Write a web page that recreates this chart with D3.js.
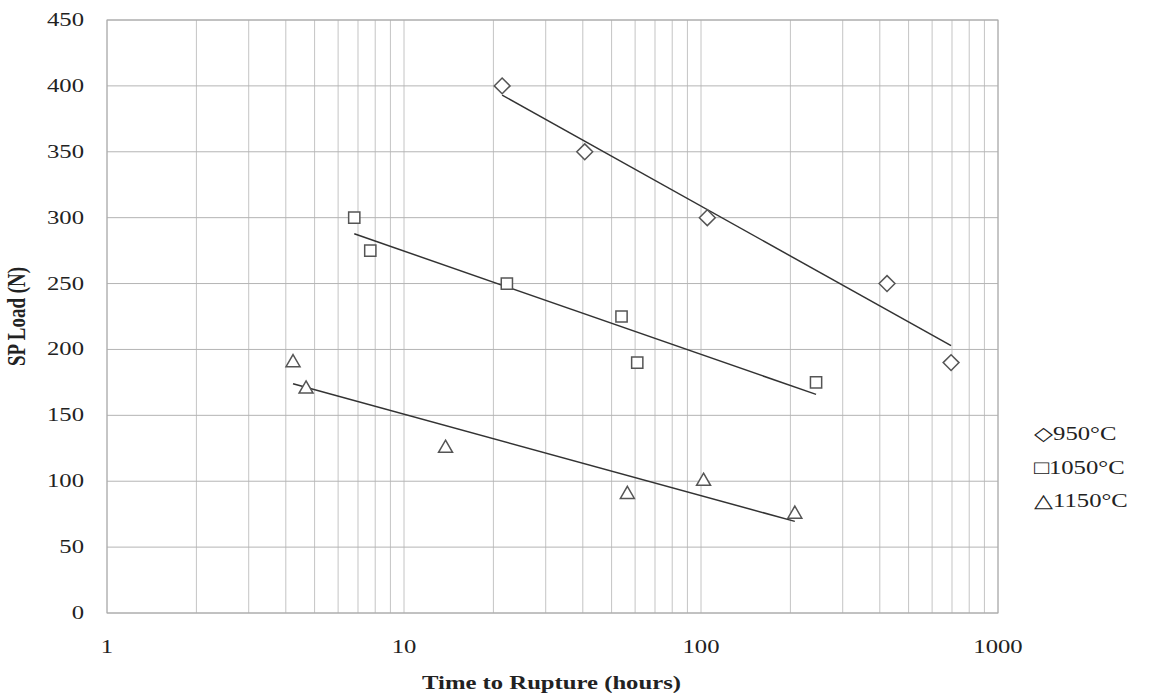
<!DOCTYPE html>
<html>
<head>
<meta charset="utf-8">
<script src="https://cdn.jsdelivr.net/npm/d3@7"></script>
<style>
  body { margin: 0; background: #fff; }
  text { font-family: "Liberation Serif", "Times New Roman", serif; fill: #222; }
</style>
</head>
<body>
<div id="chart"></div>
<script>
// data
const seriesNames = ["950°C", "1050°C", "1150°C"];
const legendGlyphs = ["\u25C7", "\u25A1", "\u25B3"];
const hours950 = [21.4, 40.6, 105, 423, 695];
const load950 = [400, 350, 300, 250, 190];
const hours1050 = [6.8, 7.7, 22.2, 54, 61, 244];
const load1050 = [300, 275, 250, 225, 190, 175];
const hours1150 = [4.23, 4.68, 13.8, 56.5, 102, 207];
const load1150 = [190, 170, 125, 90, 100, 75];
const yTicks = [0, 50, 100, 150, 200, 250, 300, 350, 400, 450];
const xTickLabels = [1, 10, 100, 1000];

const series = [
    {name: seriesNames[0], x: hours950, y: load950, shape: d3.symbolDiamond2},
    {name: seriesNames[1], x: hours1050, y: load1050, shape: d3.symbolSquare2},
    {name: seriesNames[2], x: hours1150, y: load1150, shape: d3.symbolTriangle2}
];

const width = 1154, height = 696;
const margin = {top: 20, right: 156, bottom: 83, left: 107};
const stretch = 1.3; // the source picture is wider than tall, text looks squashed sideways

const svg = d3.select('#chart').append('svg')
    .attr('width', width)
    .attr('height', height);

const x = d3.scaleLog().domain([1, 1000]).range([margin.left, width - margin.right]);
const y = d3.scaleLinear().domain([0, 450]).range([height - margin.bottom, margin.top]);

// text helper: place at (px, py) and stretch horizontally
function addText(g, px, py, str, anchor) {
    return g.append('text')
        .attr('transform', `translate(${px}, ${py}) scale(${stretch}, 1)`)
        .attr('text-anchor', anchor || 'start')
        .style('font-size', '19px')
        .text(str);
}

// vertical grid (log minor lines)
svg.append('g').selectAll('line')
    .data(x.ticks())
    .enter().append('line')
    .attr('x1', d => x(d)).attr('x2', d => x(d))
    .attr('y1', y(0)).attr('y2', y(450))
    .attr('stroke', '#c4c4c4')
    .attr('stroke-width', 1);

// horizontal grid
svg.append('g').selectAll('line')
    .data(yTicks)
    .enter().append('line')
    .attr('x1', x(1)).attr('x2', x(1000))
    .attr('y1', d => y(d)).attr('y2', d => y(d))
    .attr('stroke', '#b4b4b4')
    .attr('stroke-width', 1);

// plot frame
svg.append('rect')
    .attr('x', x(1)).attr('y', y(450))
    .attr('width', x(1000) - x(1)).attr('height', y(0) - y(450))
    .attr('fill', 'none')
    .attr('stroke', '#aaa');

// tick labels
const yLab = svg.append('g');
yTicks.forEach(d => addText(yLab, 84, y(d) + 6, d, 'end'));

const xLab = svg.append('g');
xTickLabels.forEach(d => addText(xLab, x(d), 653, d, 'middle'));

// axis titles
addText(svg, x(Math.sqrt(1000)) - 1, 689, 'Time to Rupture (hours)', 'middle')
    .style('font-weight', 'bold');

svg.append('text')
    .attr('transform', `translate(25, ${y(225)}) scale(${stretch}, 1) rotate(-90)`)
    .attr('text-anchor', 'middle')
    .style('font-size', '19px')
    .style('font-weight', 'bold')
    .text('SP Load (N)');

// logarithmic trend lines (least squares on ln x)
series.forEach(s => {
    const lx = s.x.map(Math.log);
    const mx = d3.mean(lx), my = d3.mean(s.y);
    const sxy = d3.sum(lx, (v, i) => (v - mx) * (s.y[i] - my));
    const sxx = d3.sum(lx, v => (v - mx) * (v - mx));
    const slope = sxy / sxx, icpt = my - slope * mx;
    const ends = d3.extent(s.x);
    svg.append('line')
        .attr('x1', x(ends[0])).attr('y1', y(slope * Math.log(ends[0]) + icpt))
        .attr('x2', x(ends[1])).attr('y2', y(slope * Math.log(ends[1]) + icpt))
        .attr('stroke', '#333')
        .attr('stroke-width', 1.5);
});

// markers
series.forEach(s => {
    svg.append('g').selectAll('path')
        .data(s.x.map((v, i) => [v, s.y[i]]))
        .enter().append('path')
        .attr('transform', d => `translate(${x(d[0])}, ${y(d[1])})`)
        .attr('d', d3.symbol().type(s.shape).size(s.shape === d3.symbolTriangle2 ? 140 : 160))
        .attr('fill', '#fff')
        .attr('stroke', '#555')
        .attr('stroke-width', 1.5);
});

// legend
const legend = svg.append('g');
seriesNames.forEach((n, i) => {
    addText(legend, 1034, 440 + i * 33.5, legendGlyphs[i] + n);
});
</script>
</body>
</html>
